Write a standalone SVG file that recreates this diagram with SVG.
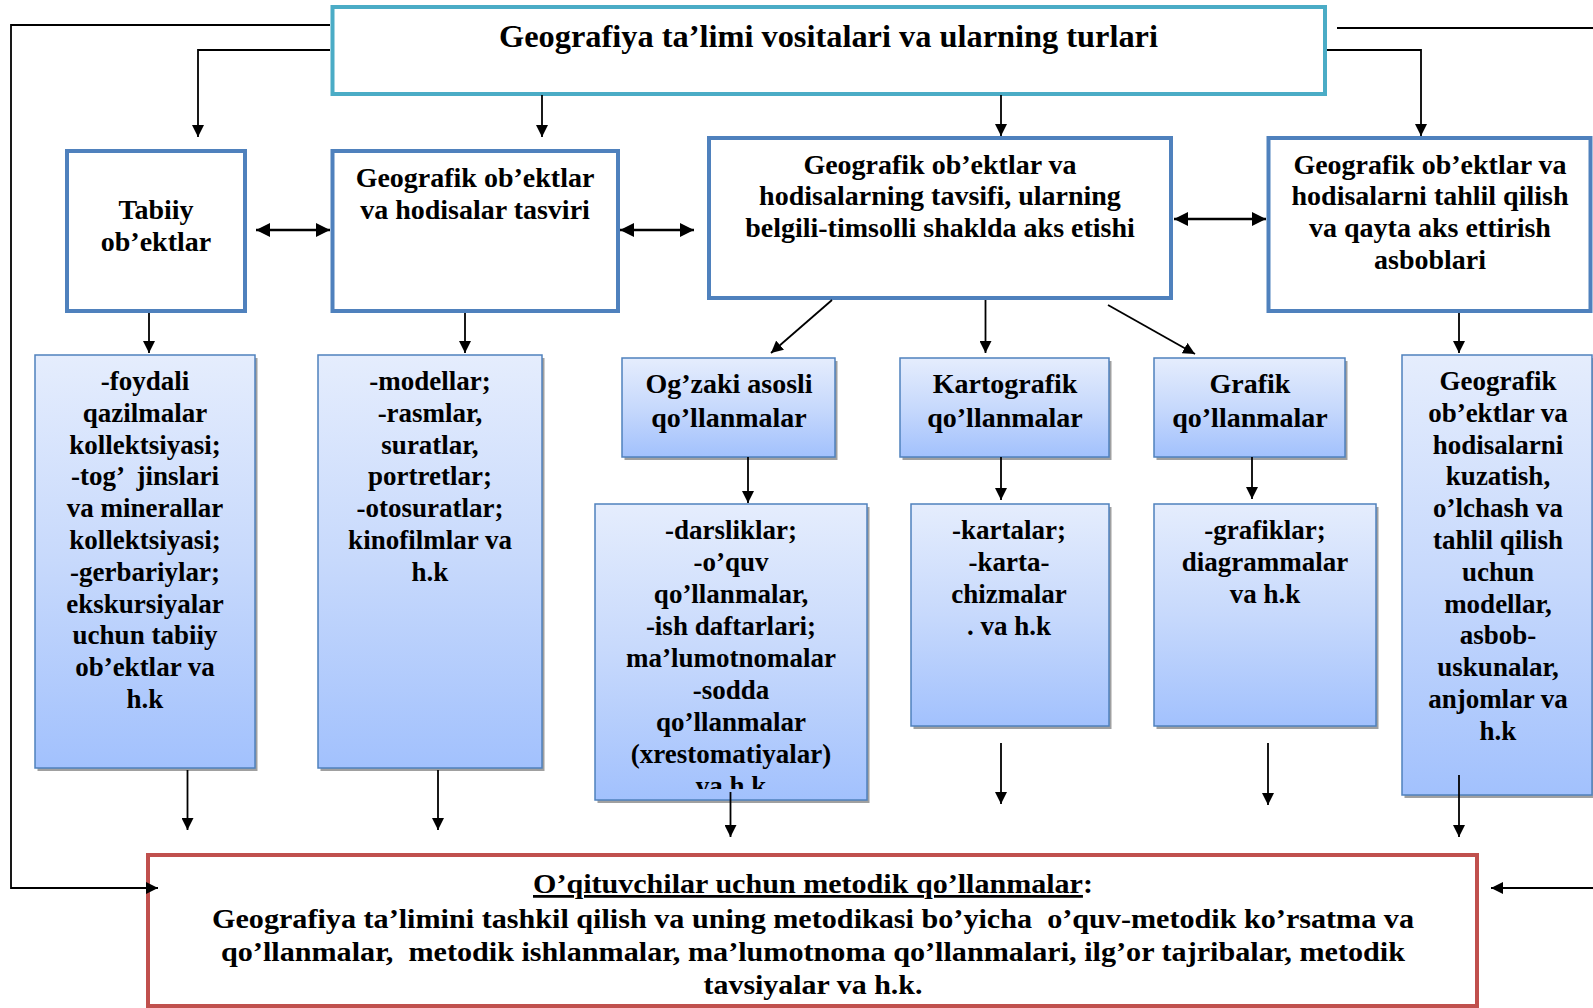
<svg xmlns="http://www.w3.org/2000/svg" width="1593" height="1008" viewBox="0 0 1593 1008">
<defs>
  <linearGradient id="g" x1="0" y1="0" x2="0" y2="1">
    <stop offset="0" stop-color="#E5EDFD"/>
    <stop offset="0.5" stop-color="#C7D9FC"/>
    <stop offset="1" stop-color="#A2C1FD"/>
  </linearGradient>
  <marker id="ah" markerUnits="userSpaceOnUse" markerWidth="12" markerHeight="12" viewBox="0 0 12 12" refX="12" refY="6" orient="auto-start-reverse">
    <path d="M0,0 L12,6 L0,12 z" fill="#000"/>
  </marker>
  <marker id="ah2" markerUnits="userSpaceOnUse" markerWidth="14" markerHeight="14" viewBox="0 0 14 14" refX="14" refY="7" orient="auto-start-reverse">
    <path d="M0,0 L14,7 L0,14 z" fill="#000"/>
  </marker>
  <clipPath id="clipD"><rect x="595" y="504" width="272" height="285"/></clipPath>
</defs>
<style>
  text { font-family: "Liberation Serif", "Times New Roman", serif; font-weight: bold; fill: #000; text-anchor: middle; }
  .t { font-size: 28px; }
  .l { font-size: 27px; }
  .b { font-size: 27.5px; }
  .top { fill: #fff; stroke: #4F81BD; stroke-width: 4; }
  .grad { fill: url(#g); stroke: #4F81BD; stroke-width: 1.5; }
  .sh { fill: #808080; opacity: 0.75; }
  .c { fill: none; stroke: #000; stroke-width: 1.8; }
  .arr { marker-end: url(#ah); }
  .dbl { stroke-width: 2.5; marker-start: url(#ah2); marker-end: url(#ah2); }
</style>

<g id="title">
  <rect x="332.5" y="7" width="992.5" height="87" fill="#fff" stroke="#4BACC6" stroke-width="4"/>
  <text x="828.5" y="47" style="font-size:31px" textLength="659" lengthAdjust="spacingAndGlyphs">Geografiya ta’limi vositalari va ularning turlari</text>
</g>

<g id="tabiiy">
  <rect class="top" x="67" y="151" width="178" height="160"/>
  <text class="t" x="156" y="219">Tabiiy</text>
  <text class="t" x="156" y="251">ob’ektlar</text>
</g>

<g id="tasvir">
  <rect class="top" x="332.5" y="151" width="285.5" height="160"/>
  <text class="t" x="475" y="187">Geografik ob’ektlar</text>
  <text class="t" x="475" y="219">va hodisalar tasviri</text>
</g>

<g id="tavsif">
  <rect class="top" x="709" y="138" width="462" height="160"/>
  <text class="t" x="940" y="173.5">Geografik ob’ektlar va</text>
  <text class="t" x="940" y="205">hodisalarning tavsifi, ularning</text>
  <text class="t" x="940" y="237">belgili-timsolli shaklda aks etishi</text>
</g>

<g id="tahlil">
  <rect class="top" x="1268.5" y="138" width="322" height="173"/>
  <text class="t" x="1430" y="173.5">Geografik ob’ektlar va</text>
  <text class="t" x="1430" y="205">hodisalarni tahlil qilish</text>
  <text class="t" x="1430" y="237">va qayta aks ettirish</text>
  <text class="t" x="1430" y="269">asboblari</text>
</g>

<g id="tabiiy-list">
  <rect class="sh" x="37.5" y="358" width="220" height="413"/>
  <rect class="grad" x="35" y="355" width="220" height="413"/>
  <text class="l" x="145" y="390" xml:space="preserve"><tspan x="145">-foydali</tspan><tspan x="145" dy="31.8">qazilmalar</tspan><tspan x="145" dy="31.8">kollektsiyasi;</tspan><tspan x="145" dy="31.8">-tog’  jinslari</tspan><tspan x="145" dy="31.8">va minerallar</tspan><tspan x="145" dy="31.8">kollektsiyasi;</tspan><tspan x="145" dy="31.8">-gerbariylar;</tspan><tspan x="145" dy="31.8">ekskursiyalar</tspan><tspan x="145" dy="31.8">uchun tabiiy</tspan><tspan x="145" dy="31.8">ob’ektlar va</tspan><tspan x="145" dy="31.8">h.k</tspan></text>
</g>

<g id="tasvir-list">
  <rect class="sh" x="320.5" y="358" width="224" height="413"/>
  <rect class="grad" x="318" y="355" width="224" height="413"/>
  <text class="l" x="430" y="390"><tspan x="430">-modellar;</tspan><tspan x="430" dy="31.8">-rasmlar,</tspan><tspan x="430" dy="31.8">suratlar,</tspan><tspan x="430" dy="31.8">portretlar;</tspan><tspan x="430" dy="31.8">-otosuratlar;</tspan><tspan x="430" dy="31.8">kinofilmlar va</tspan><tspan x="430" dy="31.8">h.k</tspan></text>
</g>

<g id="ogzaki">
  <rect class="sh" x="624.5" y="361" width="213" height="99"/>
  <rect class="grad" x="622" y="358" width="213" height="99"/>
  <text class="t" x="729" y="393">Og’zaki asosli</text>
  <text class="t" x="729" y="427">qo’llanmalar</text>
</g>

<g id="kartografik">
  <rect class="sh" x="902.5" y="361" width="209" height="99"/>
  <rect class="grad" x="900" y="358" width="209" height="99"/>
  <text class="t" x="1005" y="393">Kartografik</text>
  <text class="t" x="1005" y="427">qo’llanmalar</text>
</g>

<g id="grafik">
  <rect class="sh" x="1156.5" y="361" width="191" height="99"/>
  <rect class="grad" x="1154" y="358" width="191" height="99"/>
  <text class="t" x="1250" y="393">Grafik</text>
  <text class="t" x="1250" y="427">qo’llanmalar</text>
</g>

<g id="darslik-list">
  <rect class="sh" x="597.5" y="507" width="272" height="296"/>
  <rect class="grad" x="595" y="504" width="272" height="296"/>
  <text class="l" x="731" y="538.5" clip-path="url(#clipD)"><tspan x="731">-darsliklar;</tspan><tspan x="731" dy="32">-o’quv</tspan><tspan x="731" dy="32">qo’llanmalar,</tspan><tspan x="731" dy="32">-ish daftarlari;</tspan><tspan x="731" dy="32">ma’lumotnomalar</tspan><tspan x="731" dy="32">-sodda</tspan><tspan x="731" dy="32">qo’llanmalar</tspan><tspan x="731" dy="32">(xrestomatiyalar)</tspan><tspan x="731" dy="32">va h.k</tspan></text>
</g>

<g id="karta-list">
  <rect class="sh" x="913.5" y="507" width="198" height="222"/>
  <rect class="grad" x="911" y="504" width="198" height="222"/>
  <text class="l" x="1009" y="538.5"><tspan x="1009">-kartalar;</tspan><tspan x="1009" dy="32">-karta-</tspan><tspan x="1009" dy="32">chizmalar</tspan><tspan x="1009" dy="32">. va h.k</tspan></text>
</g>

<g id="grafik-list">
  <rect class="sh" x="1156.5" y="507" width="222" height="222"/>
  <rect class="grad" x="1154" y="504" width="222" height="222"/>
  <text class="l" x="1265" y="538.5"><tspan x="1265">-grafiklar;</tspan><tspan x="1265" dy="32">diagrammalar</tspan><tspan x="1265" dy="32">va h.k</tspan></text>
</g>

<g id="asbob-list">
  <rect class="sh" x="1404.5" y="358" width="190" height="440"/>
  <rect class="grad" x="1402" y="355" width="190" height="440"/>
  <text class="l" x="1498" y="390"><tspan x="1498">Geografik</tspan><tspan x="1498" dy="31.8">ob’ektlar va</tspan><tspan x="1498" dy="31.8">hodisalarni</tspan><tspan x="1498" dy="31.8">kuzatish,</tspan><tspan x="1498" dy="31.8">o’lchash va</tspan><tspan x="1498" dy="31.8">tahlil qilish</tspan><tspan x="1498" dy="31.8">uchun</tspan><tspan x="1498" dy="31.8">modellar,</tspan><tspan x="1498" dy="31.8">asbob-</tspan><tspan x="1498" dy="31.8">uskunalar,</tspan><tspan x="1498" dy="31.8">anjomlar va</tspan><tspan x="1498" dy="31.8">h.k</tspan></text>
</g>

<g id="metodik">
  <rect x="148" y="855" width="1329" height="151" fill="#fff" stroke="#C0504D" stroke-width="4"/>
  <text class="b" x="813" y="893" textLength="560" lengthAdjust="spacingAndGlyphs"><tspan text-decoration="underline">O’qituvchilar uchun metodik qo’llanmalar</tspan>:</text>
  <text class="b" x="813" y="928" xml:space="preserve" textLength="1202" lengthAdjust="spacingAndGlyphs">Geografiya ta’limini tashkil qilish va uning metodikasi bo’yicha  o’quv-metodik ko’rsatma va</text>
  <text class="b" x="813" y="961" xml:space="preserve" textLength="1184" lengthAdjust="spacingAndGlyphs">qo’llanmalar,  metodik ishlanmalar, ma’lumotnoma qo’llanmalari, ilg’or tajribalar, metodik</text>
  <text class="b" x="813" y="994" textLength="219" lengthAdjust="spacingAndGlyphs">tavsiyalar va h.k.</text>
</g>

<g id="connectors">
  <path class="c arr" d="M330,25 H11 V888 H158"/>
  <path class="c arr" d="M330,50 H198 V137"/>
  <path class="c arr" d="M542,95 V137"/>
  <path class="c arr" d="M1001,95 V136"/>
  <path class="c arr" d="M1327,50 H1421 V136"/>
  <path class="c arr" d="M1337,28 H1600 V888 H1491"/>
  <path class="c dbl" d="M256,230 H330"/>
  <path class="c dbl" d="M620,230 H694"/>
  <path class="c dbl" d="M1174,219 H1266"/>
  <path class="c arr" d="M149,313 V353"/>
  <path class="c arr" d="M465,313 V353"/>
  <path class="c arr" d="M832,300 L771,353"/>
  <path class="c arr" d="M985.5,300 V353"/>
  <path class="c arr" d="M1108,305 L1195,354"/>
  <path class="c arr" d="M1459,313 V353"/>
  <path class="c arr" d="M748,457 V503"/>
  <path class="c arr" d="M1001,457 V500"/>
  <path class="c arr" d="M1252,457 V499"/>
  <path class="c arr" d="M187.5,770 V830"/>
  <path class="c arr" d="M438,770 V830"/>
  <path class="c arr" d="M730.5,792 V837"/>
  <path class="c arr" d="M1001,743 V804"/>
  <path class="c arr" d="M1268,743 V805"/>
  <path class="c arr" d="M1459,775 V837"/>
</g>
</svg>
